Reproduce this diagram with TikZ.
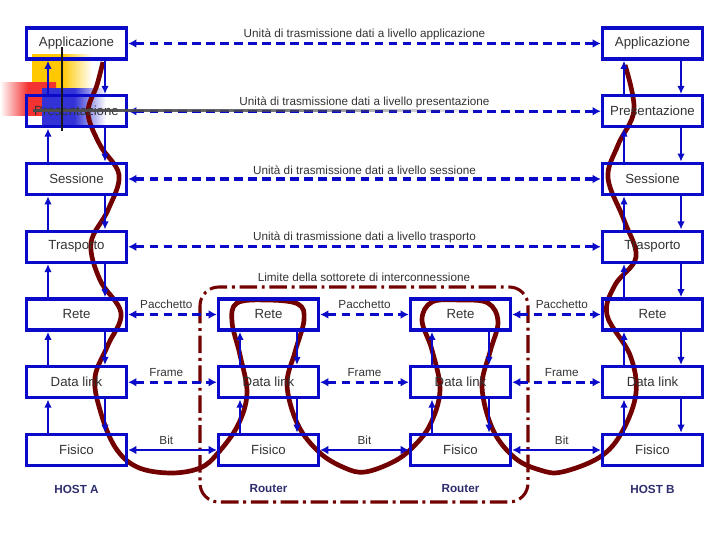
\documentclass[tikz,border=0pt]{standalone}
\usepackage{fontspec}
\setmainfont{Liberation Sans}
\usetikzlibrary{calc,arrows.meta,positioning,fadings}
\definecolor{netblue}{RGB}{10,10,200}
\definecolor{pathred}{RGB}{115,0,0}
\definecolor{hostnavy}{RGB}{45,45,110}
\definecolor{decoyellow}{RGB}{255,200,0}
\definecolor{decored}{RGB}{245,50,50}
\definecolor{decoblue}{RGB}{50,50,215}
\tikzfading[name=fadeE, left color=transparent!0, right color=transparent!100, middle color=transparent!20]

\begin{document}
\begin{tikzpicture}[x=0.03cm, y=-0.03cm,
    layer/.style={draw=netblue, line width=2.9pt, minimum width=3cm, minimum height=0.93cm,
        inner sep=0pt, text=black!80, font=\fontsize{11.3}{13}\selectfont},
    uparrow/.style={draw=netblue, line width=2pt, -{Latex[length=7pt,width=6.5pt]}},
    peer/.style={draw=netblue, line width=2.6pt, dash pattern=on 7.5pt off 4.5pt,
        {Latex[length=7pt,width=7.5pt]}-{Latex[length=7pt,width=7.5pt]}},
    bitline/.style={draw=netblue, line width=2.4pt,
        {Latex[length=7pt,width=7.5pt]}-{Latex[length=7pt,width=7.5pt]}},
    unitlbl/.style={midway, yshift=0.27cm, text=black!80, font=\fontsize{10}{12}\selectfont},
    pdulbl/.style={yshift=0.3cm, text=black!80, font=\fontsize{10}{12}\selectfont},
    hostlbl/.style={text=hostnavy, font=\fontsize{10}{12}\selectfont\bfseries}]
    \useasboundingbox (0,0) rectangle (720,540);

    %左上角的装饰方块
    \shade[left color=decoyellow, right color=white, middle color=decoyellow] (32,55) rectangle (92,100);
    \shade[left color=white, right color=decored, middle color=decored] (0,83) rectangle (56,116);
    \shade[left color=decoblue, right color=white, middle color=decoblue] (42,89) rectangle (106,128);

    %数据经过的路径
    \draw[pathred, line width=4pt] plot[smooth, tension=0.6] coordinates {
        (103,62) (97,85) (88,113) (100,145) (119,175) (108,210) (91,243) (100,280)
        (121,313) (108,345) (95,377) (100,410) (115,447) (137,467) (170,473) (200,468)
        (218,453) (238,425) (247,393) (240,355) (232,322) (237,303) (267,300) (298,304)
        (304,320) (295,352) (287,385) (298,425) (320,453) (345,468) (365,472) (393,462)
        (412,448) (430,425) (440,390) (432,350) (422,320) (432,302) (460,300) (488,303)
        (498,322) (490,352) (482,387) (493,430) (515,458) (540,470) (562,472) (600,457)
        (622,432) (636,393) (630,355) (607,315) (615,285) (636,257) (624,220) (608,178)
        (618,145) (634,110) (625,65)};

    %边界
    \draw[pathred, line width=2.6pt, dash pattern=on 15pt off 4pt on 2.5pt off 4pt,
        rounded corners=16pt] (200,287) rectangle (528,502);
    \node[text=black!80, font=\fontsize{10}{12}\selectfont] (Limite) at (364,277)
        {Limite della sottorete di interconnessione};

    %HOST A
    \node[layer] (AppA) at (76.5,43.5) {Applicazione};
    \node[layer] (PreA) at (76.5,111.25) {Presentazione};
    \node[layer] (SesA) at (76.5,179) {Sessione};
    \node[layer] (TraA) at (76.5,246.75) {Trasporto};
    \node[layer] (RetA) at (76.5,314.5) {Rete};
    \node[layer] (DatA) at (76.5,382.25) {Data link};
    \node[layer] (FisA) at (76.5,450) {Fisico};
    \node[hostlbl] (HostA) at (76.5,489) {HOST A};

    %Router
    \node[layer] (RetR1) at (268.5,314.5) {Rete};
    \node[layer] (DatR1) at (268.5,382.25) {Data link};
    \node[layer] (FisR1) at (268.5,450) {Fisico};
    \node[hostlbl] (Router1) at (268.5,489) {Router};

    \node[layer] (RetR2) at (460.5,314.5) {Rete};
    \node[layer] (DatR2) at (460.5,382.25) {Data link};
    \node[layer] (FisR2) at (460.5,450) {Fisico};
    \node[hostlbl] (Router2) at (460.5,489) {Router};

    %HOST B
    \node[layer] (AppB) at (652.5,43.5) {Applicazione};
    \node[layer] (PreB) at (652.5,111.25) {Presentazione};
    \node[layer] (SesB) at (652.5,179) {Sessione};
    \node[layer] (TraB) at (652.5,246.75) {Trasporto};
    \node[layer] (RetB) at (652.5,314.5) {Rete};
    \node[layer] (DatB) at (652.5,382.25) {Data link};
    \node[layer] (FisB) at (652.5,450) {Fisico};
    \node[hostlbl] (HostB) at (652.5,489) {HOST B};

    %层与层之间
    \draw[uparrow] ([xshift=-0.855cm]PreA.north) -- ([xshift=-0.855cm]AppA.south);
    \draw[uparrow] ([xshift=-0.855cm]SesA.north) -- ([xshift=-0.855cm]PreA.south);
    \draw[uparrow] ([xshift=-0.855cm]TraA.north) -- ([xshift=-0.855cm]SesA.south);
    \draw[uparrow] ([xshift=-0.855cm]RetA.north) -- ([xshift=-0.855cm]TraA.south);
    \draw[uparrow] ([xshift=-0.855cm]DatA.north) -- ([xshift=-0.855cm]RetA.south);
    \draw[uparrow] ([xshift=-0.855cm]FisA.north) -- ([xshift=-0.855cm]DatA.south);
    \draw[uparrow] ([xshift=0.855cm]AppA.south) -- ([xshift=0.855cm]PreA.north);
    \draw[uparrow] ([xshift=0.855cm]PreA.south) -- ([xshift=0.855cm]SesA.north);
    \draw[uparrow] ([xshift=0.855cm]SesA.south) -- ([xshift=0.855cm]TraA.north);
    \draw[uparrow] ([xshift=0.855cm]TraA.south) -- ([xshift=0.855cm]RetA.north);
    \draw[uparrow] ([xshift=0.855cm]RetA.south) -- ([xshift=0.855cm]DatA.north);
    \draw[uparrow] ([xshift=0.855cm]DatA.south) -- ([xshift=0.855cm]FisA.north);

    \draw[uparrow] ([xshift=-0.855cm]DatR1.north) -- ([xshift=-0.855cm]RetR1.south);
    \draw[uparrow] ([xshift=-0.855cm]FisR1.north) -- ([xshift=-0.855cm]DatR1.south);
    \draw[uparrow] ([xshift=0.855cm]RetR1.south) -- ([xshift=0.855cm]DatR1.north);
    \draw[uparrow] ([xshift=0.855cm]DatR1.south) -- ([xshift=0.855cm]FisR1.north);

    \draw[uparrow] ([xshift=-0.855cm]DatR2.north) -- ([xshift=-0.855cm]RetR2.south);
    \draw[uparrow] ([xshift=-0.855cm]FisR2.north) -- ([xshift=-0.855cm]DatR2.south);
    \draw[uparrow] ([xshift=0.855cm]RetR2.south) -- ([xshift=0.855cm]DatR2.north);
    \draw[uparrow] ([xshift=0.855cm]DatR2.south) -- ([xshift=0.855cm]FisR2.north);

    \draw[uparrow] ([xshift=-0.855cm]PreB.north) -- ([xshift=-0.855cm]AppB.south);
    \draw[uparrow] ([xshift=-0.855cm]SesB.north) -- ([xshift=-0.855cm]PreB.south);
    \draw[uparrow] ([xshift=-0.855cm]TraB.north) -- ([xshift=-0.855cm]SesB.south);
    \draw[uparrow] ([xshift=-0.855cm]RetB.north) -- ([xshift=-0.855cm]TraB.south);
    \draw[uparrow] ([xshift=-0.855cm]DatB.north) -- ([xshift=-0.855cm]RetB.south);
    \draw[uparrow] ([xshift=-0.855cm]FisB.north) -- ([xshift=-0.855cm]DatB.south);
    \draw[uparrow] ([xshift=0.855cm]AppB.south) -- ([xshift=0.855cm]PreB.north);
    \draw[uparrow] ([xshift=0.855cm]PreB.south) -- ([xshift=0.855cm]SesB.north);
    \draw[uparrow] ([xshift=0.855cm]SesB.south) -- ([xshift=0.855cm]TraB.north);
    \draw[uparrow] ([xshift=0.855cm]TraB.south) -- ([xshift=0.855cm]RetB.north);
    \draw[uparrow] ([xshift=0.855cm]RetB.south) -- ([xshift=0.855cm]DatB.north);
    \draw[uparrow] ([xshift=0.855cm]DatB.south) -- ([xshift=0.855cm]FisB.north);

    %对等层
    \draw[peer] (AppA) -- (AppB) node[unitlbl] {Unità di trasmissione dati a livello applicazione};
    \draw[peer] (PreA) -- (PreB) node[unitlbl] {Unità di trasmissione dati a livello presentazione};
    \draw[peer] (SesA) -- (SesB) node[unitlbl] {Unità di trasmissione dati a livello sessione};
    \draw[peer] (TraA) -- (TraB) node[unitlbl] {Unità di trasmissione dati a livello trasporto};

    \draw[peer] (RetA) -- (RetR1) node[pdulbl, pos=0.43] {Pacchetto};
    \draw[peer] (DatA) -- (DatR1) node[pdulbl, pos=0.43] {Frame};
    \draw[bitline] (FisA) -- (FisR1) node[pdulbl, pos=0.43] {Bit};
    \draw[peer] (RetR1) -- (RetR2) node[pdulbl, pos=0.5] {Pacchetto};
    \draw[peer] (DatR1) -- (DatR2) node[pdulbl, pos=0.5] {Frame};
    \draw[bitline] (FisR1) -- (FisR2) node[pdulbl, pos=0.5] {Bit};
    \draw[peer] (RetR2) -- (RetB) node[pdulbl, pos=0.56] {Pacchetto};
    \draw[peer] (DatR2) -- (DatB) node[pdulbl, pos=0.56] {Frame};
    \draw[bitline] (FisR2) -- (FisB) node[pdulbl, pos=0.56] {Bit};

    %装饰线
    \fill[black!70, path fading=fadeE] (33,109) rectangle (495,112);
    \draw[black!90, line width=2.5pt] (62,47) -- (62,131);
\end{tikzpicture}
\end{document}
